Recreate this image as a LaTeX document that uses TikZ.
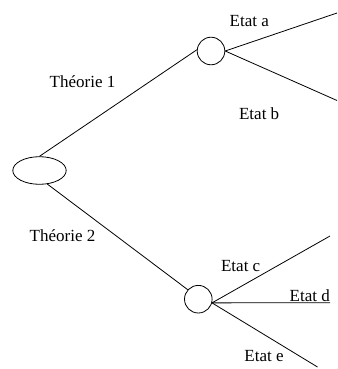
\documentclass[tikz,border=0pt]{standalone}
\usepackage{fontspec}
\setmainfont{Liberation Serif}
\usetikzlibrary{shapes.geometric}

\begin{document}
\begin{tikzpicture}[x=1pt, y=-1pt, line width=0.8pt, font=\fontsize{17}{20}\selectfont,
  hasard/.style={draw, circle, inner sep=0pt, minimum size=27.6pt},
  etiq/.style={anchor=base west, inner sep=0pt}]
  \useasboundingbox (0,0) rectangle (337,369);
  % racine et noeuds de hasard
  \node[draw, ellipse, inner sep=0pt, minimum width=53.4pt, minimum height=27.6pt] (R) at (39.5,170.5) {};
  \node[hasard] (H1) at (211,51) {};
  \node[hasard] (H2) at (198.3,299.2) {};
  % bouts libres des branches
  \coordinate (A) at (337,13);
  \coordinate (B) at (337,100.5);
  \coordinate (C) at (330,236);
  \coordinate (D) at (330,302.7);
  \coordinate (E) at (317.5,367);
  % théories
  \draw (R.north) -- (H1.175);
  \draw (R.-60) -- (H2.138);
  \node[etiq] (t1) at (49.3,87.3) {Théorie 1};
  \node[etiq] (t2) at (29.3,241) {Théorie 2};
  % états
  \draw (H1.east) -- (A);
  \draw (H1.east) -- (B);
  \draw (H2.-15) -- (C);
  \draw (H2.-15) -- (D);
  \draw (H2.-15) -- (E);
  \node[etiq] (ea) at (229.3,26.7) {Etat a};
  \node[etiq] (eb) at (238.7,119) {Etat b};
  \node[etiq] (ec) at (220.7,271) {Etat c};
  \node[etiq] (ed) at (289.3,301.5) {Etat d};
  \node[etiq] (ee) at (244,361.7) {Etat e};
\end{tikzpicture}
\end{document}
